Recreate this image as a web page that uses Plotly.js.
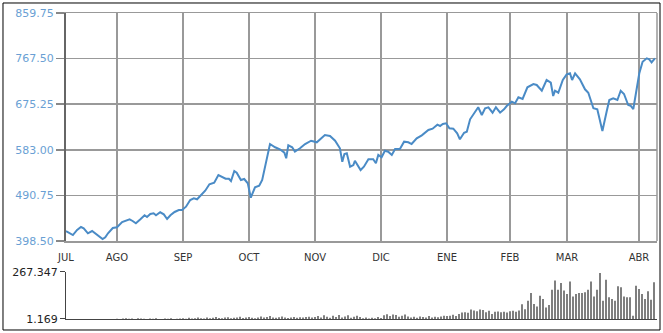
<!DOCTYPE html>
<html>
<head>
<meta charset="utf-8">
<script src="https://cdn.plot.ly/plotly-3.0.1.min.js"></script>
<style>html,body{margin:0;padding:0;background:#fff;}#chart{width:663px;height:333px;}</style>
</head>
<body>
<div id="chart"></div>
<script>
// Trading-day index of each reading and the closing level
const day = [0,0.9,2.3,3.7,5,5.9,7.3,8.7,9.8,11.1,12.2,13.1,14,15.6,17,18.7,20,21.2,22.2,23.3,24.8,26.2,27,28.1,29.2,30,31.4,32.6,33.7,34.8,36.2,37.6,38.7,40,41.4,42.6,43.7,45.1,46.4,47.8,48.7,49.4,50.8,52.1,53.2,54.3,55,56.1,56.9,58.3,59.4,60.6,61.6,63,64.4,65.4,68,69.7,71.3,72.8,73.4,74.1,75.4,76.3,78,79.7,81.7,83.6,84.7,86.3,88,89.7,91.3,92.1,92.8,93.6,94.7,95.8,96.3,97.1,98.2,99.3,100.8,102.4,103.3,104.1,105.2,106.3,107.4,108.6,109.7,111.3,112.7,114.1,115.2,116.9,118.6,120.8,122.2,123.8,124.7,125.6,126.7,127.8,129.1,130.4,131.3,132.7,133.6,134.7,136.3,137.4,138.6,139.7,140.8,142.2,143.3,144.7,146,146.9,148.6,149.7,150.8,152.2,153.8,155.8,156.9,158.6,160.2,161.6,162.4,163,164.1,165.6,166.9,168,168.7,169.7,171.3,173,174.1,175.8,177.1,178.8,180.2,181.1,182.4,183.8,184.9,186,187.4,188.2,189.1,190,191.1,192.2,193.6,194.4,195.2,196.3];
const close = [418.7,416.1,410.6,420.8,426.8,424.2,414.1,418.7,414.1,407.2,402.5,406.0,414.1,424.8,426.2,436.9,439.6,442.4,439.0,434.3,442.4,450.5,447.1,453.1,454.5,450.5,456.6,452.5,443.0,450.5,457.2,461.2,461.2,467.9,481.4,484.9,482.9,491.6,500.3,513.2,515.2,516.4,532.0,527.4,524.5,524.5,519.9,540.1,536.7,521.9,523.9,515.2,486.1,507.1,510.4,521.9,594.7,588.1,584.0,577.1,565.8,592.1,588.1,579.2,586.0,594.7,601.4,598.2,604.2,612.9,610.9,601.4,586.0,558.9,574.5,575.9,548.8,552.2,560.9,552.2,542.1,548.8,563.8,563.8,555.7,572.5,567.8,581.2,579.2,572.5,584.6,584.6,599.4,598.2,594.7,606.3,612.3,623.1,625.7,633.8,631.1,635.2,636.6,626.5,625.7,616.4,604.2,617.6,619.6,644.7,660.1,669.0,653.4,667.0,669.0,658.1,669.0,658.1,664.9,671.6,680.3,677.1,689.2,685.8,709.4,716.1,714.1,702.5,724.2,718.7,691.8,702.5,698.5,724.2,735.7,737.7,724.2,737.7,725.6,705.4,698.5,667.0,664.9,621.0,660.1,683.7,687.2,683.7,702.5,695.9,673.6,672.2,665.5,697.3,737.7,761.2,768.1,766.1,760.0,768.1];
// Daily volume, one value per trading day
const volume = [0,0,0,0,0,0,0,0,0,0,0,0,0,0,0,0,0,
 3,0,4,5,3,4,0,5,4,3,0,4,3,5,0,0,4,3,5,0,3,4,
 5,3,8,4,6,9,5,4,10,6,8,12,7,5,9,11,6,8,10,14,7,9,12,8,6,10,15,9,12,18,10,8,11,16,9,7,10,13,8,11,9,12,14,10,
 12,18,10,22,14,8,20,12,24,10,16,22,8,14,20,12,
 6,10,4,8,6,12,7,
 22,28,18,26,24,14,20,26,16,
 10,14,8,16,12,10,18,9,14,11,16,20,18,
 20,25,18,30,38,40,36,55,50,45,55,52,40,48,30,42,44,40,42,38,
 45,48,42,50,85,57,105,148,86,72,133,114,67,80,167,219,167,205,162,143,213,129,143,148,148,152,167,213,129,167,262,105,224,124,114,105,186,181,129,124,124,20,190,171,143,114,158,110,209];
const monthDays = [0,17,39,61,83,105,127,148,167,191];
const monthLabels = ['JUL','AGO','SEP','OCT','NOV','DIC','ENE','FEB','MAR','ABR'];
const priceTicks = [398.5,490.75,583.0,675.25,767.5,859.75];
const priceTickText = ['398.50','490.75','583.00','675.25','767.50','859.75'];
const volTicks = [1.169,267.347];
const volTickText = ['1.169','267.347'];

const volDay = volume.map((v,i)=>i);

const traces = [
 {x: day, y: close, type:'scatter', mode:'lines', line:{color:'#4a8bc6', width:2}, xaxis:'x', yaxis:'y', hoverinfo:'skip'},
 {x: volDay, y: volume, type:'bar', marker:{color:'#555'}, xaxis:'x2', yaxis:'y2', hoverinfo:'skip'}
];

const F = 'DejaVu Sans, Verdana, sans-serif';
const layout = {
 width:663, height:333,
 margin:{l:66, r:6, t:13, b:14, pad:0},
 paper_bgcolor:'#fff', plot_bgcolor:'#fff',
 showlegend:false, bargap:0.5,
 xaxis:{domain:[0,1], range:[0,197], anchor:'y', tickmode:'array', tickvals:monthDays, ticktext:monthLabels,
  showgrid:true, gridcolor:'#999', gridwidth:1.5, zeroline:false,
  showline:true, mirror:true, linecolor:'#999', linewidth:1.5,
  ticks:'outside', ticklen:6, tickcolor:'rgba(0,0,0,0)',
  tickfont:{family:F, size:10, color:'#333'}},
 yaxis:{domain:[0.2549,1], range:[398.5,859.75], anchor:'x', tickmode:'array', tickvals:priceTicks, ticktext:priceTickText,
  showgrid:true, gridcolor:'#999', gridwidth:1.5, zeroline:false,
  showline:true, linecolor:'#666', linewidth:2,
  ticks:'outside', ticklen:8, tickcolor:'#888', tickwidth:1.5,
  tickfont:{family:F, size:11, color:'#6a9fd4'}},
 xaxis2:{domain:[0,1], range:[0,197], anchor:'y2', showticklabels:false, showgrid:false, zeroline:false,
  showline:true, linecolor:'#444', linewidth:1, ticks:''},
 yaxis2:{domain:[0,0.1536], range:[1.169,267.347], anchor:'x2', tickmode:'array', tickvals:volTicks, ticktext:volTickText,
  showgrid:false, zeroline:false, showline:true, linecolor:'#444', linewidth:1,
  ticks:'outside', ticklen:5, tickcolor:'#444', tickwidth:1,
  tickfont:{family:F, size:11, color:'#222'}},
 shapes:[
  {type:'line', xref:'paper', yref:'y', x0:1, x1:1, y0:398.5, y1:859.75, line:{color:'#999', width:1.5}},
  {type:'rect', xref:'paper', yref:'paper', x0:-0.1066, x1:1.0051, y0:-0.0359, y1:1.0327, line:{color:'#000', width:1}, fillcolor:'rgba(0,0,0,0)'}
 ]
};
Plotly.newPlot('chart', traces, layout, {staticPlot:true, displayModeBar:false});
</script>
</body>
</html>
